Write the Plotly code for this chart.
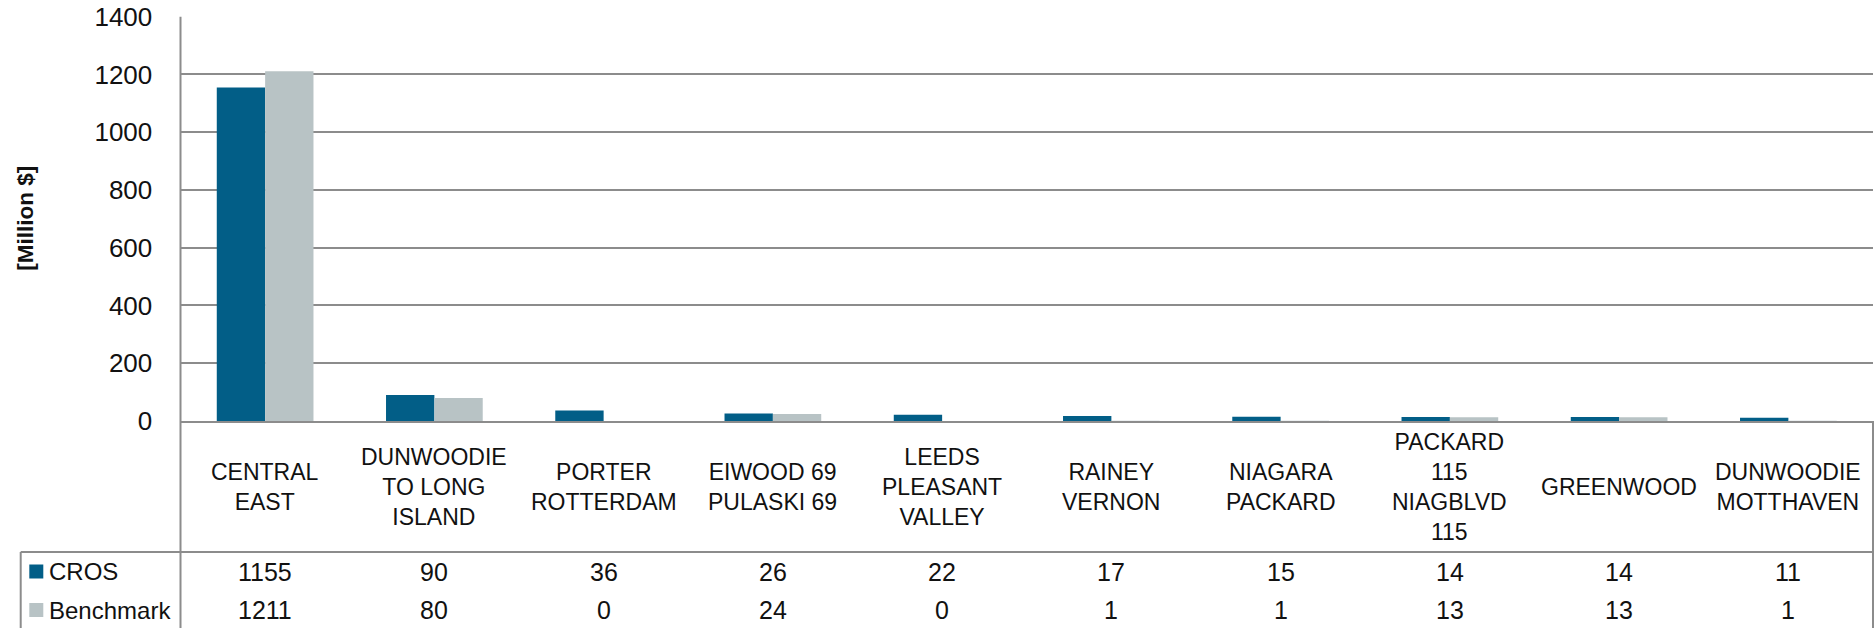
import plotly.graph_objects as go

# ---- data -------------------------------------------------------------
categories = [
    "CENTRAL EAST",
    "DUNWOODIE TO LONG ISLAND",
    "PORTER ROTTERDAM",
    "EIWOOD 69 PULASKI 69",
    "LEEDS PLEASANT VALLEY",
    "RAINEY VERNON",
    "NIAGARA PACKARD",
    "PACKARD 115 NIAGBLVD 115",
    "GREENWOOD",
    "DUNWOODIE MOTTHAVEN",
]
category_labels = [
    "CENTRAL<br>EAST",
    "DUNWOODIE<br>TO LONG<br>ISLAND",
    "PORTER<br>ROTTERDAM",
    "EIWOOD 69<br>PULASKI 69",
    "LEEDS<br>PLEASANT<br>VALLEY",
    "RAINEY<br>VERNON",
    "NIAGARA<br>PACKARD",
    "PACKARD<br>115<br>NIAGBLVD<br>115",
    "GREENWOOD",
    "DUNWOODIE<br>MOTTHAVEN",
]
cros = [1155, 90, 36, 26, 22, 17, 15, 14, 14, 11]
benchmark = [1211, 80, 0, 24, 0, 1, 1, 13, 13, 1]
series_names = ["CROS", "Benchmark"]
y_ticks = [0, 200, 400, 600, 800, 1000, 1200, 1400]
y_title = "[Million $]"

# ---- styling ----------------------------------------------------------
W, H = 1875, 628
C_CROS = "#025e87"
C_BENCH = "#b8c3c5"
GRID = "#8c8c8c"
TEXT = "#111111"
FONT = "Liberation Sans, Arial, sans-serif"

# pixel layout of the plot area and the data table beneath it
PLOT_L, PLOT_R, PLOT_T, PLOT_B = 180.5, 1873.0, 16.7, 421.0
TABLE_L = 20.7
HEADER_B = 552.0
ROW_Y = [571.5, 610.0]


def fx(px):
    return px / W


def fy(py):
    return 1 - py / H


fig = go.Figure()
fig.add_trace(go.Bar(x=categories, y=cros, name=series_names[0],
                     marker=dict(color=C_CROS, line=dict(width=0))))
fig.add_trace(go.Bar(x=categories, y=benchmark, name=series_names[1],
                     marker=dict(color=C_BENCH, line=dict(width=0))))

annotations = []

# category names, centred in the header row of the table
for cat, lab in zip(categories, category_labels):
    annotations.append(dict(
        x=cat, xref="x", y=fy((PLOT_B + HEADER_B) / 2), yref="paper",
        text=lab, showarrow=False, xanchor="center", yanchor="middle",
        align="center", font=dict(family=FONT, size=23, color=TEXT)))

# data table values
for row_y, vals in zip(ROW_Y, [cros, benchmark]):
    for cat, v in zip(categories, vals):
        annotations.append(dict(
            x=cat, xref="x", y=fy(row_y), yref="paper", text=str(v),
            showarrow=False, xanchor="center", yanchor="middle",
            font=dict(family=FONT, size=25, color=TEXT)))

# series names in the table's legend column
for row_y, name in zip(ROW_Y, series_names):
    annotations.append(dict(
        x=fx(47), xref="paper", y=fy(row_y), yref="paper", text=name,
        showarrow=False, xanchor="left", yanchor="middle",
        font=dict(family=FONT, size=24, color=TEXT)))

# y-axis title
annotations.append(dict(
    x=fx(26), xref="paper", y=fy((PLOT_T + PLOT_B) / 2), yref="paper",
    text="<b>" + y_title + "</b>", textangle=-90, showarrow=False,
    xanchor="center", yanchor="middle",
    font=dict(family=FONT, size=22.5, color=TEXT)))

line = dict(color=GRID, width=2)
shapes = [
    # left axis line continuing down through the table
    dict(type="line", xref="paper", yref="paper",
         x0=fx(PLOT_L), x1=fx(PLOT_L), y0=fy(PLOT_T), y1=0, line=line),
    # right border of the table
    dict(type="line", xref="paper", yref="paper",
         x0=fx(PLOT_R), x1=fx(PLOT_R), y0=fy(PLOT_B), y1=0, line=line),
    # left border of the legend column
    dict(type="line", xref="paper", yref="paper",
         x0=fx(TABLE_L), x1=fx(TABLE_L), y0=fy(HEADER_B), y1=0, line=line),
    # line under the category header row
    dict(type="line", xref="paper", yref="paper",
         x0=fx(TABLE_L), x1=fx(PLOT_R), y0=fy(HEADER_B), y1=fy(HEADER_B),
         line=line),
]
# legend keys
for row_y, col in zip(ROW_Y, [C_CROS, C_BENCH]):
    shapes.append(dict(type="rect", xref="paper", yref="paper",
                       x0=fx(29.3), x1=fx(43.3),
                       y0=fy(row_y - 7), y1=fy(row_y + 7),
                       fillcolor=col, line=dict(width=0)))

fig.update_layout(
    width=W, height=H,
    margin=dict(l=0, r=0, t=0, b=0, autoexpand=False),
    paper_bgcolor="white", plot_bgcolor="white",
    barmode="group", bargap=0.4286, bargroupgap=0,
    showlegend=False,
    font=dict(family=FONT, color=TEXT),
    xaxis=dict(domain=[fx(PLOT_L), fx(PLOT_R)], showticklabels=False,
               automargin=False,
               showgrid=False, zeroline=False, showline=True,
               linecolor=GRID, linewidth=2, ticks="",
               range=[-0.5, len(categories) - 0.5]),
    yaxis=dict(domain=[fy(PLOT_B), fy(PLOT_T)], range=[0, 1400],
               automargin=False,
               tickvals=y_ticks, showgrid=True, gridcolor=GRID, gridwidth=2,
               zeroline=False, showline=False,
               ticks="outside", ticklen=22, tickcolor="rgba(0,0,0,0)",
               tickfont=dict(family=FONT, size=26, color=TEXT)),
    annotations=annotations,
    shapes=shapes,
)

fig.write_html("out.html")
